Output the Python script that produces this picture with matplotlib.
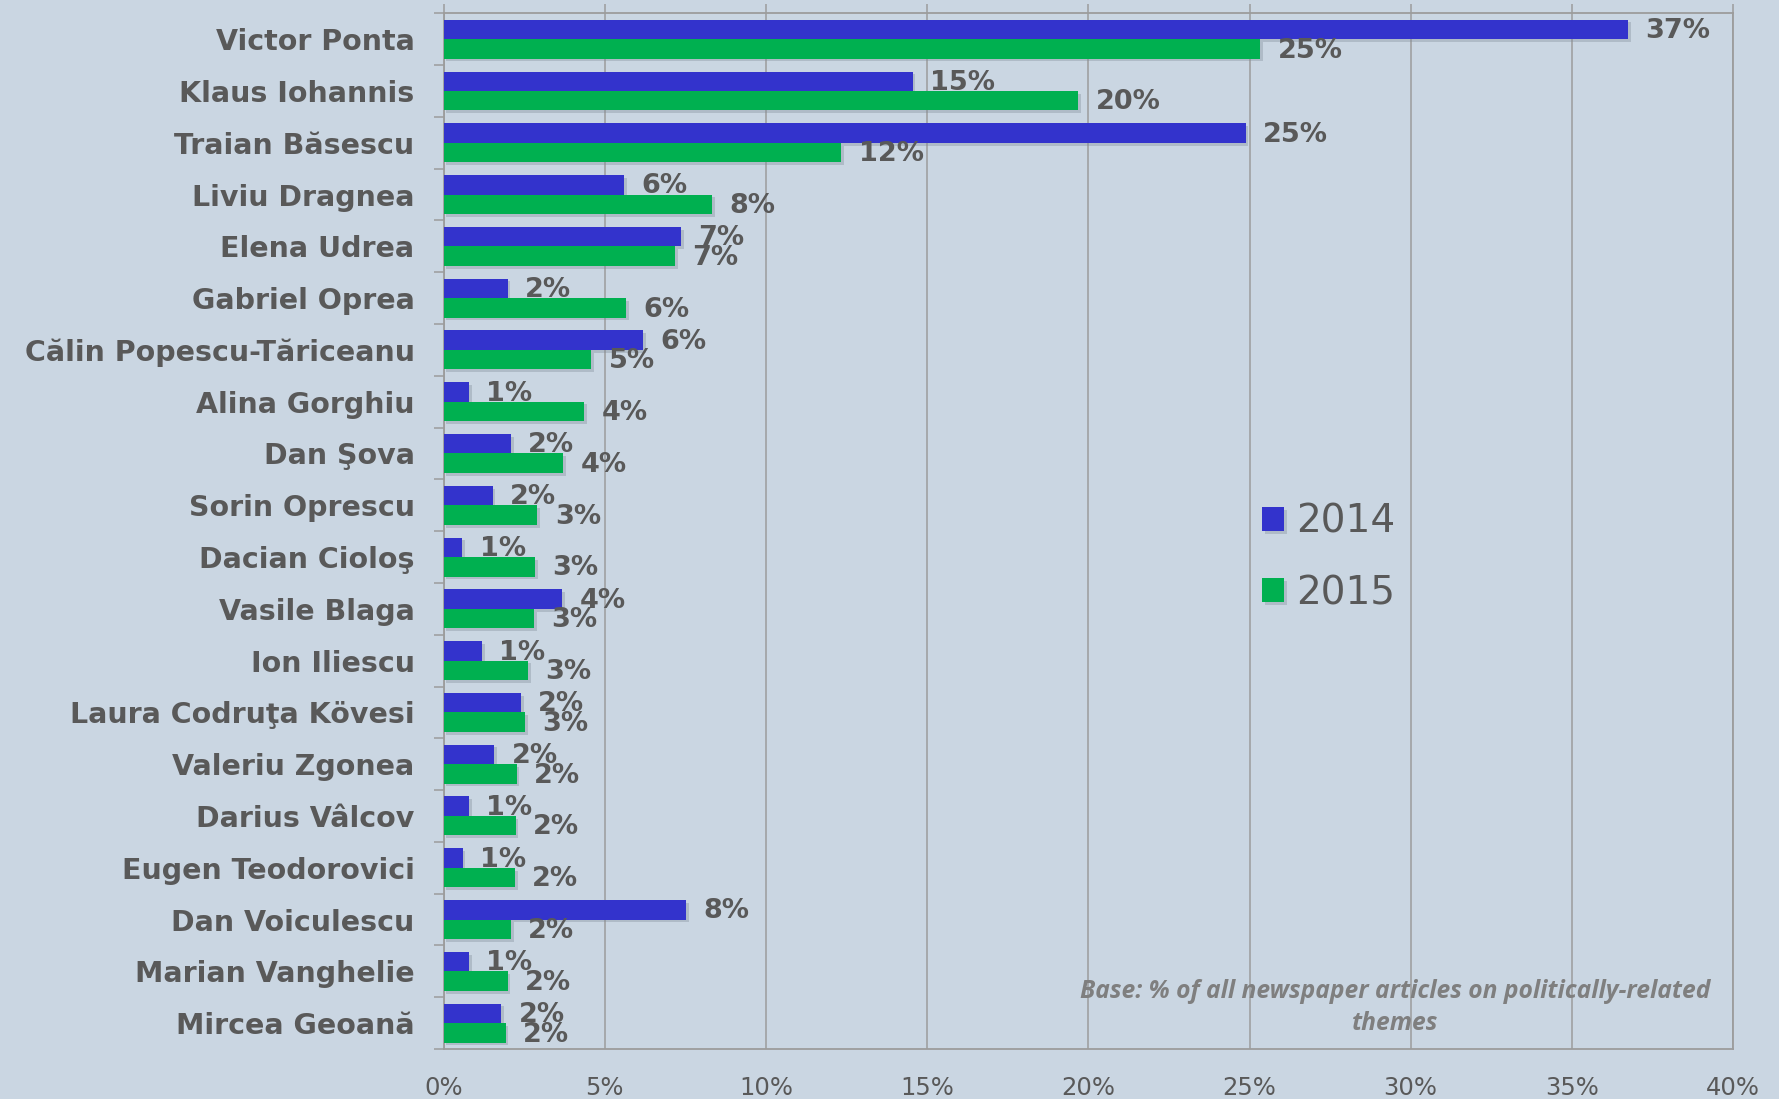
import matplotlib
matplotlib.use("Agg")
import matplotlib.pyplot as plt
import matplotlib.patheffects as pe
import numpy as np

names = ["Victor Ponta", "Klaus Iohannis", "Traian Băsescu", "Liviu Dragnea",
         "Elena Udrea", "Gabriel Oprea", "Călin Popescu-Tăriceanu", "Alina Gorghiu",
         "Dan Şova", "Sorin Oprescu", "Dacian Cioloş", "Vasile Blaga", "Ion Iliescu",
         "Laura Codruţa Kövesi", "Valeriu Zgonea", "Darius Vâlcov", "Eugen Teodorovici",
         "Dan Voiculescu", "Marian Vanghelie", "Mircea Geoană"]
v2014 = [36.75, 14.55, 24.88, 5.59, 7.37, 1.98, 6.18, 0.78, 2.08, 1.52,
         0.58, 3.67, 1.18, 2.39, 1.57, 0.78, 0.59, 7.52, 0.78, 1.78]
v2015 = [25.33, 19.68, 12.34, 8.32, 7.18, 5.65, 4.58, 4.36, 3.71, 2.91,
         2.84, 2.81, 2.62, 2.52, 2.26, 2.23, 2.21, 2.08, 1.98, 1.92]
series_labels = ["2014", "2015"]
xticks = [0, 5, 10, 15, 20, 25, 30, 35, 40]
note = "Base: % of all newspaper articles on politically-related\nthemes"

BG = "#CAD6E2"
BLUE = "#3333CC"
GREEN = "#00B050"
TXT = "#595959"
GRID = "#9c9c9c"

W, H = 1779, 1099
fig = plt.figure(figsize=(W / 100, H / 100), dpi=100, facecolor=BG)
ax = fig.add_axes([443.7 / W, 1 - 1049 / H, (1733 - 443.7) / W, (1049 - 13.3) / H])
ax.set_facecolor(BG)

y = np.arange(len(names))
bh = 0.376
shadow = [pe.SimplePatchShadow(offset=(2, -2), shadow_rgbFace="#7f8a96", alpha=0.35), pe.Normal()]
b1 = ax.barh(y - bh / 2, v2014, height=bh, color=BLUE, label=series_labels[0], zorder=3)
b2 = ax.barh(y + bh / 2, v2015, height=bh, color=GREEN, label=series_labels[1], zorder=3)
for b in list(b1) + list(b2):
    b.set_path_effects(shadow)

for bars, vals in ((b1, v2014), (b2, v2015)):
    for bar, v in zip(bars, vals):
        ax.annotate(f"{v:.0f}%", (v, bar.get_y() + bar.get_height() / 2),
                    xytext=(12.5, -1.2), textcoords="offset points",
                    ha="left", va="center", fontsize=19.5, fontweight="bold",
                    color=TXT, zorder=5)

ax.set_xlim(0, 40)
ax.set_ylim(len(names) - 0.5, -0.5)
ax.set_xticks(xticks)
ax.set_xticklabels([f"{t}%" for t in xticks], fontsize=17.5, color=TXT)
ax.xaxis.grid(True, color=GRID, linewidth=1.1, zorder=0)
ax.set_axisbelow(True)
ax.tick_params(axis="x", bottom=False, top=True, labelbottom=True, labeltop=False,
               length=6.5, width=1.1, color=GRID, pad=13)

ax.set_yticks(y)
ax.set_yticklabels(names, fontsize=20.5, fontweight="bold", color=TXT)
ax.set_yticks(np.arange(-0.5, len(names), 1.0), minor=True)
ax.tick_params(axis="y", which="major", length=0, pad=21)
ax.tick_params(axis="y", which="minor", length=7.3, width=1.1, color=GRID)

for s in ("left", "bottom", "top", "right"):
    ax.spines[s].set_color(GRID)
    ax.spines[s].set_linewidth(1.3)

leg = fig.legend(handles=[b1, b2], labels=series_labels, loc="center left",
                 bbox_to_anchor=(1262 / W, 1 - 557.5 / H), frameon=False,
                 fontsize=28, handlelength=0.57, handleheight=0.57,
                 handletextpad=0.3, labelspacing=0.85, borderpad=0, borderaxespad=0)
for t in leg.get_texts():
    t.set_color(TXT)

fig.text(1395.5 / W, 1 - 1007.5 / H, note, ha="center", va="center",
         fontsize=17.7, fontstyle="italic", fontweight="bold", color="#7f7f7f",
         family=["Open Sans", "DejaVu Sans"], linespacing=1.35)

fig.savefig("out.png", dpi=100, facecolor=BG)
